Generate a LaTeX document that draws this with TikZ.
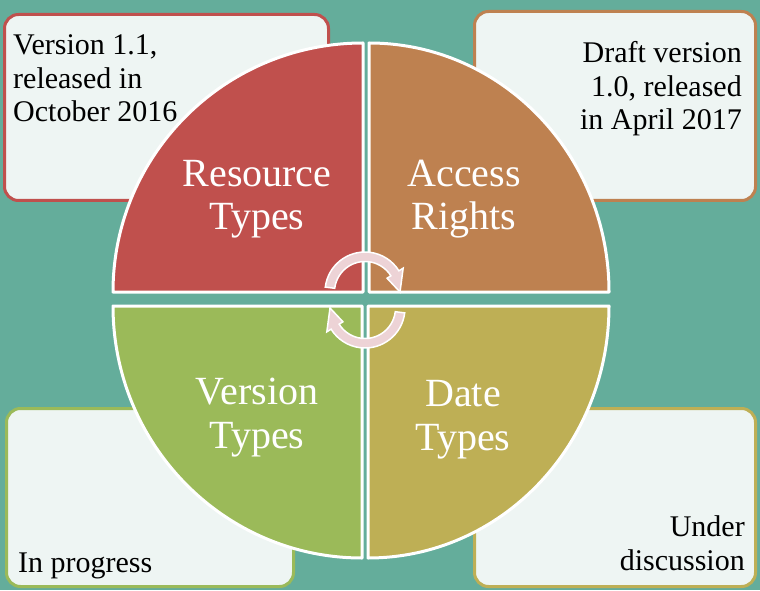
\documentclass[tikz,border=0pt]{standalone}
\usepackage{fontspec}
\setmainfont{Liberation Serif}
\definecolor{teal}{HTML}{64AD9B}
\definecolor{panelfill}{HTML}{EEF5F3}
\definecolor{qred}{HTML}{C0504D}
\definecolor{qorange}{HTML}{BE8150}
\definecolor{qgreen}{HTML}{9BBA59}
\definecolor{qolive}{HTML}{BEAF55}
\definecolor{arrowpink}{HTML}{EDD3D6}
\begin{document}
\begin{tikzpicture}[x=1pt,y=1pt,
  panel/.style={rounded corners=14pt, fill=panelfill, line width=3pt},
  note/.style={font=\fontsize{30}{33.5}\selectfont, text=black, inner sep=0pt},
  quarter/.style={draw=white, line width=3pt, line join=round},
  label/.style={font=\fontsize{40}{43.5}\selectfont, text=white, align=center, inner sep=0pt},
  cycarrow/.style={fill=arrowpink, draw=white, line width=1.5pt, line join=miter}
]
% background
\fill[teal] (0,0) rectangle (760,590);
\useasboundingbox (0,0) rectangle (760,590);

% corner panels
\draw[panel, draw=qred]    (4.5,389.5) rectangle (328.5,575.5);
\draw[panel, draw=qorange] (474.5,389.5) rectangle (755.5,578.5);
\draw[panel, draw=qgreen]  (6.5,3.5) rectangle (293.5,181.5);
\draw[panel, draw=qolive]  (474.5,3.5) rectangle (755.5,181.5);

% panel texts (anchored on the baseline of their last line)
\node[note, anchor=base west, align=left] (tlnote) at (13,468)
  {Version 1.1,\\released in\\October 2016};
\node[note, anchor=base east, align=right] (trnote) at (742,460)
  {Draft version\\1.0, released\\in April 2017};
\node[note, anchor=base west] (blnote) at (18,18) {In progress};
\node[note, anchor=base east, align=right] (brnote) at (745,20)
  {Under\\discussion};

% the four quarters of the wheel
\draw[quarter, fill=qred] (363,298) -- (113,298)
  arc[start angle=180, end angle=90, x radius=250, y radius=249] -- cycle;
\draw[quarter, fill=qorange] (369,298) -- (369,547)
  arc[start angle=90, end angle=0, x radius=240, y radius=249] -- cycle;
\draw[quarter, fill=qgreen] (362,284) -- (113,284)
  arc[start angle=180, end angle=270, x radius=249, y radius=252] -- cycle;
\draw[quarter, fill=qolive] (368,284) -- (368,32)
  arc[start angle=270, end angle=360, x radius=241, y radius=252] -- cycle;

\node[label, anchor=base] (res) at (257,360) {Resource\\Types};
\node[label, anchor=base] (acc) at (464,360) {Access\\Rights};
\node[label, anchor=base] (ver) at (257,142) {Version\\Types};
\node[label, anchor=base] (dat) at (463,140) {Date\\Types};

% circular arrows in the middle
\coordinate (ca) at (365,298);
\coordinate (cb) at (365,282);
\draw[cycarrow] ([shift={(ca)}]173:40) arc[start angle=173, end angle=32, radius=40]
  -- ([shift={(ca)}]32:45) -- ([shift={(ca)}]0:35) -- ([shift={(ca)}]32:26)
  -- ([shift={(ca)}]32:30.5) arc[start angle=32, end angle=173, radius=30.5] -- cycle;
\draw[cycarrow] ([shift={(cb)}]-7:40) arc[start angle=-7, end angle=-148, radius=40]
  -- ([shift={(cb)}]-148:45) -- ([shift={(cb)}]-180:35) -- ([shift={(cb)}]-148:26)
  -- ([shift={(cb)}]-148:30.5) arc[start angle=-148, end angle=-7, radius=30.5] -- cycle;
\end{tikzpicture}
\end{document}
